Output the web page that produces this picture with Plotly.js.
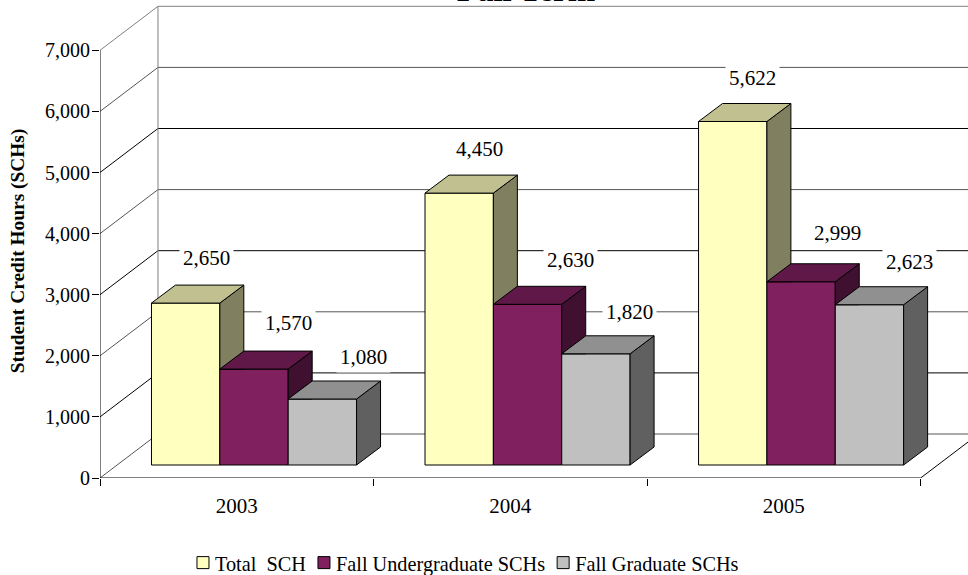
<!DOCTYPE html>
<html><head><meta charset="utf-8">
<script src="https://cdn.plot.ly/plotly-3.0.1.min.js"></script>
<style>html,body{margin:0;padding:0;background:#fff}</style></head>
<body><div id="chart" style="width:968px;height:575px"></div>
<script>
const years = ["2003","2004","2005"];
const seriesNames = ["Total  SCH","Fall Undergraduate SCHs","Fall Graduate SCHs"];
const totalSCH = [2650,4450,5622];
const undergradSCH = [1570,2630,2999];
const gradSCH = [1080,1820,2623];
const frontColors = ["#FFFFC0","#80205F","#C0C0C0"];
const topColors = ["#C0C090","#601848","#909090"];
const sideColors = ["#808060","#401030","#606060"];
const yTicks = [0,1000,2000,3000,4000,5000,6000,7000];
const labelShifts = [[[21,-45],[20,-44],[20,-44]],[[34,-46],[43,-44],[36,-49]],[[41,-42],[34,-42],[40,-43]]];

// pixel geometry of the oblique projection expressed in data units
const pxX = 273.7, pxY = 61.1/1000;
const wallDX = 58/pxX, wallDY = 44/pxY;
const planeDX = 16/pxX, planeDY = 13/pxY;
const depthDX = 24/pxX, depthDY = 18/pxY;
const barW = 68.4/pxX;
const gapX = 35.5/pxX;
const all = [totalSCH,undergradSCH,gradSCH];

const traces = [];
all.forEach((vals,s)=>{
  traces.push({type:'bar',name:seriesNames[s],x:years.map((_,c)=>c+planeDX+gapX+barW*(s+.5)),
    y:vals,base:planeDY,width:barW,marker:{color:frontColors[s],line:{color:'#000',width:1}},
    hovertemplate:'%{y:,}<extra>'+seriesNames[s]+'</extra>'});
});
function poly(xs,ys,color){
  traces.push({type:'scatter',mode:'lines',x:xs.concat(xs[0]),y:ys.concat(ys[0]),fill:'toself',fillcolor:color,
    line:{color:'#000',width:1},showlegend:false,hoverinfo:'skip'});
}
years.forEach((_,c)=>{
  all.forEach((vals,s)=>{
    const L = c+planeDX+gapX+barW*s, R = L+barW, T = vals[c]+planeDY, B = planeDY;
    const nextT = s<2 ? all[s+1][c]+planeDY : B;
    const bR = s<2 ? nextT : B+depthDY;
    // side face: only the part not hidden by the neighbouring front face
    poly([R,R,R+depthDX,R+depthDX],[nextT,T,T+depthDY,Math.max(bR,B+depthDY)],sideColors[s]);
    // top face
    poly([L,R,R+depthDX,L+depthDX],[T,T,T+depthDY,T+depthDY],topColors[s]);
  });
});
// y axis line and x axis line
traces.push({type:'scatter',mode:'lines',x:[0,0,3],y:[7000,0,0],line:{color:'#000',width:1},showlegend:false,hoverinfo:'skip'});

const shapes = [];
const seg=(x0,y0,x1,y1,c)=>shapes.push({type:'line',xref:'x',yref:'y',x0,y0,x1,y1,layer:'below',line:{color:c,width:1}});
yTicks.forEach((t,i)=>{
  const c = i==7?'#808080':(i%2?'#000':'#555');
  seg(0,t,wallDX,t+wallDY,c);
  seg(wallDX,t+wallDY,3.3,t+wallDY,c);
});
seg(wallDX,wallDY,wallDX,7000+wallDY,'#808080');
seg(3,0,3+wallDX,wallDY,'#000');

const annotations = [];
all.forEach((vals,s)=>vals.forEach((v,c)=>{
  annotations.push({xref:'x',yref:'y',x:c+planeDX+gapX+barW*(s+.5),y:v+planeDY,text:v.toLocaleString('en-US'),
    showarrow:false,xshift:labelShifts[s][c][0],yshift:-labelShifts[s][c][1],bgcolor:'#fff',
    font:{family:'Liberation Serif',size:21,color:'#000'},borderpad:3});
}));

const layout = {
  width:968,height:575,margin:{l:99.5,r:0,t:0,b:97},paper_bgcolor:'#fff',plot_bgcolor:'#fff',
  font:{family:'Liberation Serif',size:20,color:'#000'},
  barmode:'overlay',
  title:{text:'<b>Fall Term</b>',font:{family:'Liberation Serif',size:33},x:0.5434,xanchor:'center',y:0.999,yanchor:'bottom',yref:'container',automargin:false},
  xaxis:{range:[0,868.5/pxX],tickmode:'array',tickvals:[0.5,1.5,2.5],ticktext:years,ticks:'',showgrid:false,zeroline:false,showline:false,
    tickfont:{family:'Liberation Serif',size:21},ticklabelstandoff:13,
    minor:{tickmode:'array',tickvals:[0,1,2,3],ticks:'outside',ticklen:7,tickcolor:'#000',tickwidth:1,showgrid:false}},
  yaxis:{range:[0,478/pxY],tickmode:'array',tickvals:yTicks,ticktext:yTicks.map(v=>v.toLocaleString('en-US')),ticks:'outside',ticklen:7,tickcolor:'#000',
    showgrid:false,zeroline:false,showline:false,tickfont:{family:'Liberation Serif',size:20},ticklabelstandoff:-2,
    title:{text:'<b>Student Credit Hours (SCHs)</b>',font:{family:'Liberation Serif',size:19.4},standoff:9}},
  legend:{orientation:'h',x:0.0956,xanchor:'left',y:0.021,yanchor:'middle',yref:'container',font:{family:'Liberation Serif',size:20.3},tracegroupgap:0},
  shapes,annotations,showlegend:true
};
Plotly.newPlot('chart',traces,layout,{displayModeBar:false}).then(gd=>{
  // tighten the legend: the swatch-to-text and item-to-item gaps are narrower than Plotly's defaults
  let next = null;
  gd.querySelectorAll('.legend .traces').forEach(item=>{
    const m = /translate\(([-\d.]+)[ ,]+([-\d.]+)\)/.exec(item.getAttribute('transform'));
    const text = item.querySelector('.legendtext');
    text.setAttribute('x',32);
    const x = next===null ? +m[1] : next;
    item.setAttribute('transform','translate('+x+','+m[2]+')');
    next = x + 32 + text.getComputedTextLength() + 12 - 14;
  });
  // the axis title sits slightly below the middle of the axis in the reference
  // (translate is applied in the title's rotated frame)
  const yt = gd.querySelector('.ytitle');
  if (yt) yt.setAttribute('transform',(yt.getAttribute('transform')||'')+' translate(-12,-6)');
});
</script></body></html>
